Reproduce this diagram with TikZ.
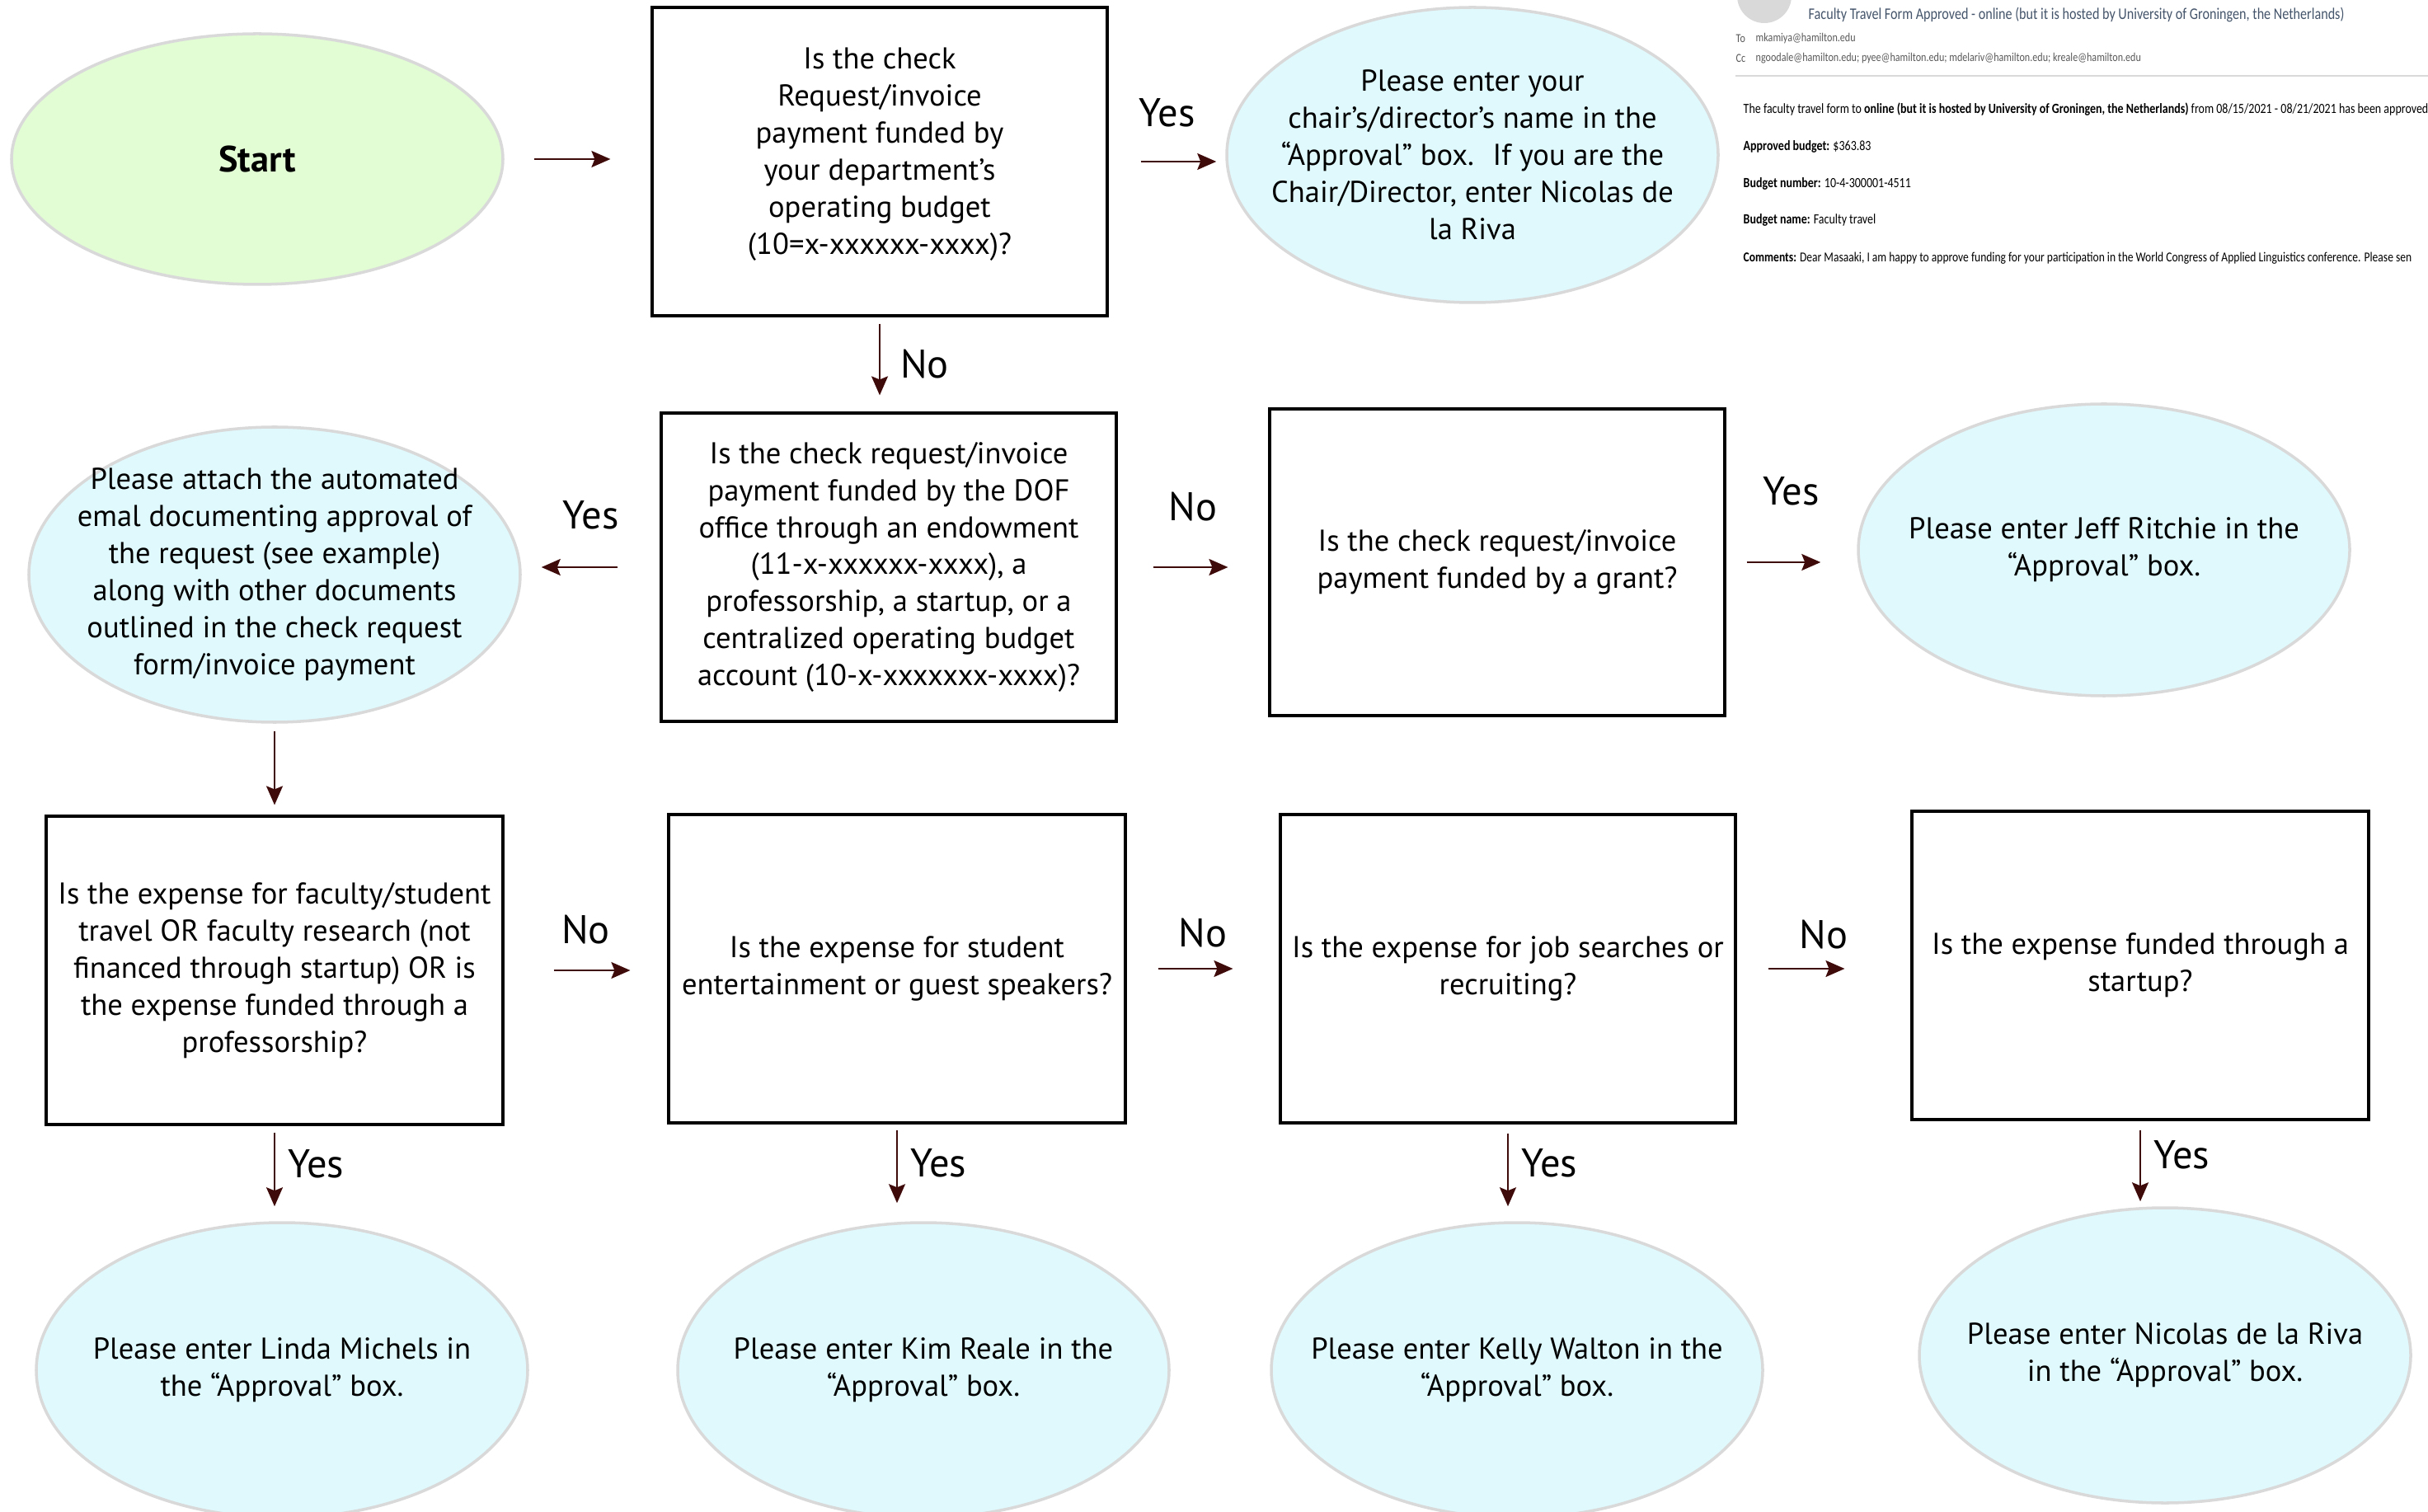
\documentclass[tikz,border=0pt]{standalone}
\usepackage{fontspec}
\setmainfont{PT Sans}
\newfontfamily\mailfont[FakeStretch=0.82]{Carlito}
\usetikzlibrary{shapes.geometric,arrows.meta,positioning}
\definecolor{startgreen}{HTML}{E2FCD4}
\definecolor{endcyan}{HTML}{E0F9FD}
\definecolor{rimgray}{HTML}{D9D9D9}
\definecolor{arrowred}{HTML}{3F0A0A}
\definecolor{mailgray}{HTML}{595959}
\definecolor{mailhead}{HTML}{44546A}

\begin{document}
\begin{tikzpicture}[
    qbox/.style={draw,line width=0.9pt,minimum width=5.52cm,minimum height=3.74cm,
        align=center,inner sep=0pt,font=\fontsize{10.4}{12.8}\selectfont},
    oval/.style={ellipse,draw=rimgray,line width=1pt,fill=endcyan,minimum width=5.96cm,
        minimum height=3.58cm,align=center,inner sep=-1.5cm,font=\fontsize{10.4}{12.8}\selectfont},
    flow/.style={draw=arrowred,line width=0.6pt,-{Stealth[length=2.3mm,width=2mm,inset=0.4mm]}},
    yn/.style={font=\fontsize{13.8}{15}\selectfont,inner sep=0pt},
    mail/.style={anchor=west,inner sep=0pt,font=\mailfont\fontsize{4.85}{5}\selectfont}
]
    \useasboundingbox (0,0) rectangle (29.45,-18.34);
    \clip (0,0) rectangle (29.45,-18.34);

    % first row
    \node[oval,fill=startgreen,minimum height=3.04cm,font=\fontsize{12.6}{14}\selectfont\bfseries] (start) at (3.12,-1.93) {Start};
    \node[qbox] (q1) at (10.67,-1.96) {Is the check\\Request/invoice\\payment funded by\\your department’s\\operating budget\\(10=x-xxxxxx-xxxx)?\\[-0.19cm]};
    \node[oval] (chair) at (17.86,-1.88) {Please enter your\\chair’s/director’s name in the\\“Approval” box.~ If you are the\\Chair/Director, enter Nicolas de\\la Riva};

    % e-mail example
    \fill[rimgray] (21.40,0.05) circle (0.33);
    \node[mail,text=mailhead,font=\mailfont\fontsize{5.6}{6}\selectfont] (mtitle) at (21.93,-0.18) {Faculty Travel Form Approved - online (but it is hosted by University of Groningen, the Netherlands)};
    \node[mail,text=mailgray,font=\mailfont\fontsize{4.2}{5}\selectfont] (mto) at (21.05,-0.47) {To};
    \node[mail,text=mailgray,font=\mailfont\fontsize{4.2}{5}\selectfont] (mtoaddr) at (21.29,-0.47) {mkamiya@hamilton.edu};
    \node[mail,text=mailgray,font=\mailfont\fontsize{4.2}{5}\selectfont] (mcc) at (21.05,-0.71) {Cc};
    \node[mail,text=mailgray,font=\mailfont\fontsize{4.2}{5}\selectfont] (mccaddr) at (21.29,-0.71) {ngoodale@hamilton.edu; pyee@hamilton.edu; mdelariv@hamilton.edu; kreale@hamilton.edu};
    \draw[rimgray,line width=0.6pt] (21.05,-0.92) -- (29.45,-0.92);
    \node[mail] (mbody) at (21.14,-1.33) {The faculty travel form to \textbf{online (but it is hosted by University of Groningen, the Netherlands)} from 08/15/2021 - 08/21/2021 has been approved.};
    \node[mail] (mbudget) at (21.14,-1.78) {\textbf{Approved budget:} \$363.83};
    \node[mail] (mnumber) at (21.14,-2.23) {\textbf{Budget number:} 10-4-300001-4511};
    \node[mail] (mname) at (21.14,-2.67) {\textbf{Budget name:} Faculty travel};
    \node[mail,font=\mailfont\fontsize{4.7}{5}\selectfont] (mcomment) at (21.14,-3.13) {\textbf{Comments:} Dear Masaaki, I am happy to approve funding for your participation in the World Congress of Applied Linguistics conference. Please sen};

    % second row
    \node[oval] (attach) at (3.33,-6.97) {Please attach the automated\\emal documenting approval of\\the request (see example)\\along with other documents\\outlined in the check request\\form/invoice payment};
    \node[qbox] (q2) at (10.78,-6.88) {Is the check request/invoice\\payment funded by the DOF\\office through an endowment\\(11-x-xxxxxx-xxxx), a\\professorship, a startup, or a\\centralized operating budget\\account (10-x-xxxxxxx-xxxx)?};
    \node[qbox,minimum height=3.72cm] (q3) at (18.16,-6.82) {Is the check request/invoice\\payment funded by a grant?};
    \node[oval,minimum height=3.54cm] (jeff) at (25.52,-6.67) {Please enter Jeff Ritchie in the\\“Approval” box.};

    % third row
    \node[qbox,minimum width=5.54cm] (q4) at (3.33,-11.77) {Is the expense for faculty/student\\travel OR faculty research (not\\financed through startup) OR is\\the expense funded through a\\professorship?};
    \node[qbox,minimum width=5.54cm] (q5) at (10.88,-11.75) {Is the expense for student\\entertainment or guest speakers?};
    \node[qbox] (q6) at (18.29,-11.75) {Is the expense for job searches or\\recruiting?};
    \node[qbox,minimum width=5.54cm] (q7) at (25.96,-11.71) {Is the expense funded through a\\startup?};

    % last row
    \node[oval] (linda) at (3.42,-16.62) {Please enter Linda Michels in\\the “Approval” box.};
    \node[oval] (kim) at (11.20,-16.62) {Please enter Kim Reale in the\\“Approval” box.};
    \node[oval] (kelly) at (18.40,-16.62) {Please enter Kelly Walton in the\\“Approval” box.};
    \node[oval] (nicolas) at (26.26,-16.44) {Please enter Nicolas de la Riva\\in the “Approval” box.};

    % arrows
    \draw[flow,shorten <=3.6mm,shorten >=4.9mm] (start.east) -- (start.east -| q1.west);
    \draw[flow,shorten <=3.9mm,shorten >=1.1mm] (q1.east) -- (q1.east -| chair.west)
        node[yn,midway,above=4.1mm] (y1) {Yes};
    \draw[flow,shorten <=0.8mm,shorten >=2mm] (q1.south) -- (q1.south |- q2.north)
        node[yn,midway,anchor=west,right=2.4mm] (n1) {No};
    \draw[flow,shorten <=5.1mm,shorten >=2.4mm] (q2.west) -- (q2.west -| attach.east)
        node[yn,midway,above=4.5mm] (y2) {Yes};
    \draw[flow,shorten <=4.3mm,shorten >=4.9mm] (q2.east) -- (q2.east -| q3.west)
        node[yn,midway,above=5.5mm] (n2) {No};
    \draw[flow,shorten <=2.5mm,shorten >=4.4mm] (q3.east) -- (q3.east -| jeff.west)
        node[yn,midway,above=6.8mm] (y3) {Yes};
    \draw[flow,shorten <=0.9mm,shorten >=1.2mm] (attach.south) -- (attach.south |- q4.north);
    \draw[flow,shorten <=6mm,shorten >=4.5mm] (q4.east) -- (q4.east -| q5.west)
        node[yn,midway,above=3.1mm] (n3) {No};
    \draw[flow,shorten <=3.8mm,shorten >=5.6mm] (q5.east) -- (q5.east -| q6.west)
        node[yn,midway,above=2.5mm] (n4) {No};
    \draw[flow,shorten <=3.8mm,shorten >=8mm] (q6.east) -- (q6.east -| q7.west)
        node[yn,midway,above=2.3mm] (n5) {No};
    \draw[flow,shorten <=0.8mm,shorten >=1.8mm] (q4.south) -- (q4.south |- linda.north)
        node[yn,pos=.4,anchor=west,right=1.5mm] (y4) {Yes};
    \draw[flow,shorten <=0.7mm,shorten >=2.2mm] (q5.south) -- (q5.south |- kim.north)
        node[yn,pos=.4,anchor=west,right=1.5mm] (y5) {Yes};
    \draw[flow,shorten <=1.1mm,shorten >=1.8mm] (q6.south) -- (q6.south |- kelly.north)
        node[yn,pos=.4,anchor=west,right=1.5mm] (y6) {Yes};
    \draw[flow,shorten <=1.1mm,shorten >=0.6mm] (q7.south) -- (q7.south |- nicolas.north)
        node[yn,pos=.4,anchor=west,right=1.5mm] (y7) {Yes};

\end{tikzpicture}
\end{document}
